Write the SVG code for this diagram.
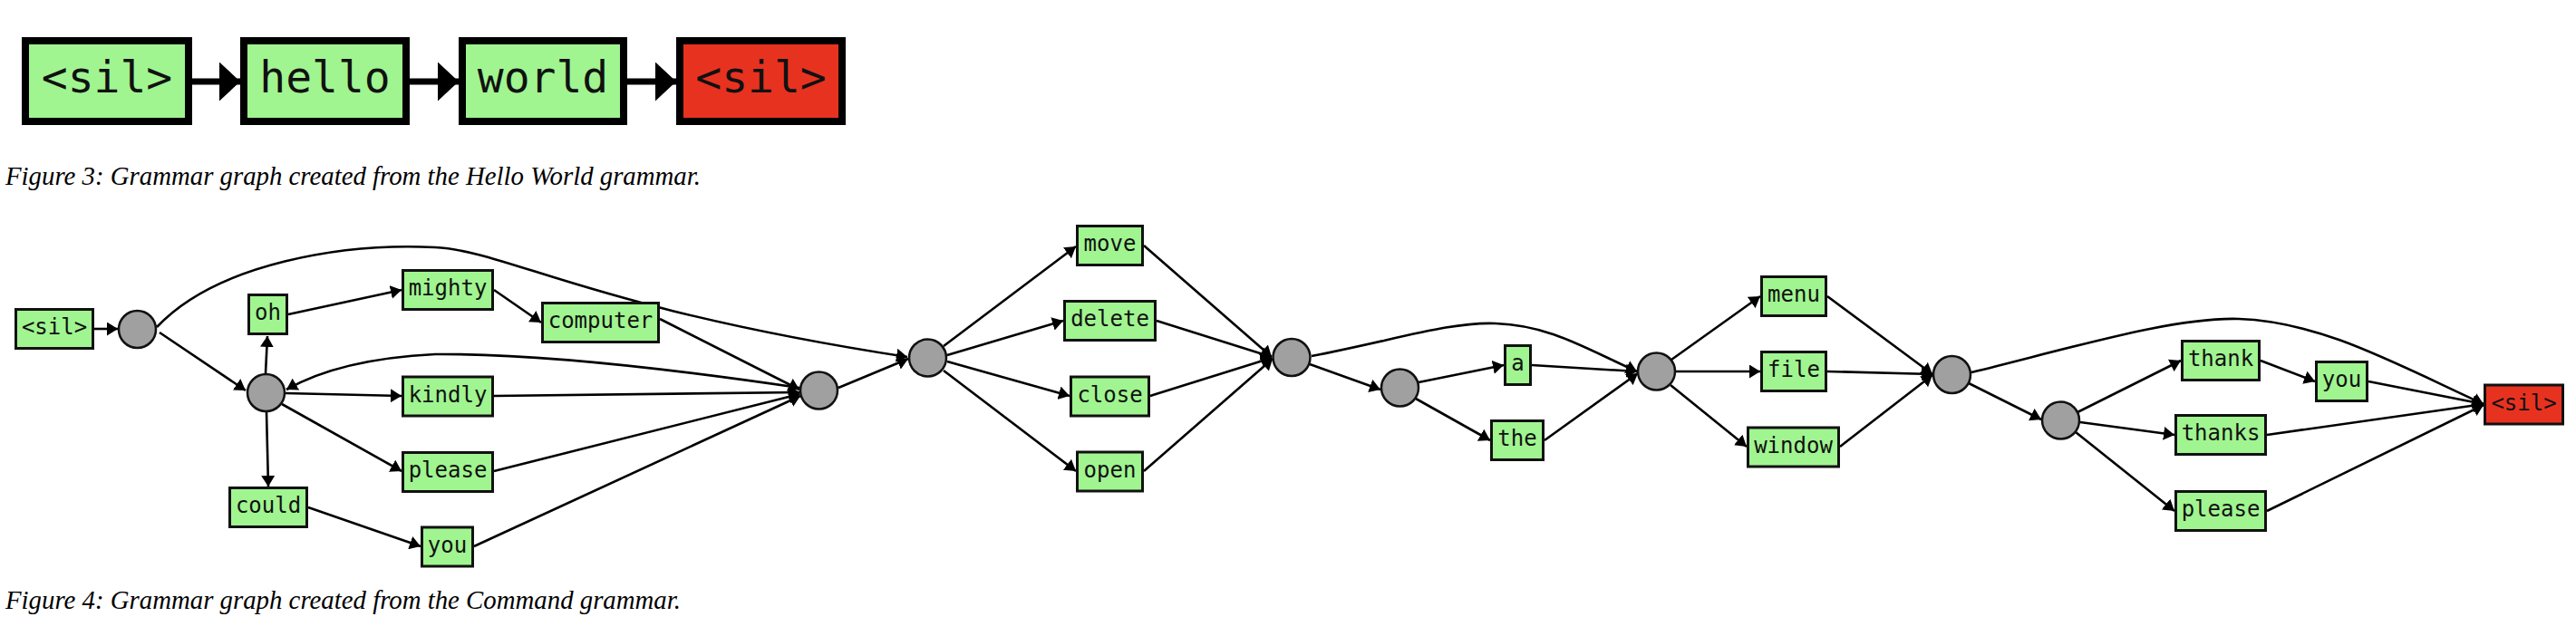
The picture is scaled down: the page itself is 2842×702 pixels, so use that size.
<svg xmlns="http://www.w3.org/2000/svg" width="2842" height="702" viewBox="0 0 2842 702">
<style>
.bg{fill:#ffffff}
.b3{fill:#a0f590;stroke:#000;stroke-width:8}
.r3{fill:#e83220;stroke:#000;stroke-width:8}
.t3{font-family:"DejaVu Sans Mono","Liberation Mono",monospace;font-size:48px;fill:#111;text-anchor:middle}
.e3{stroke:#000;stroke-width:7;fill:none;marker-end:url(#big)}
.b{fill:#a0f590;stroke:#111;stroke-width:3}
.r{fill:#e83220;stroke:#111;stroke-width:3}
.c{fill:#a0a0a0;stroke:#111;stroke-width:2.5}
.t{font-family:"DejaVu Sans Mono","Liberation Mono",monospace;font-size:24px;fill:#111;text-anchor:middle}
.e{stroke:#000;stroke-width:2.6;fill:none;marker-end:url(#arr)}
.cap{font-family:"Liberation Serif","Times New Roman",serif;font-style:italic;font-size:29px;fill:#000}
</style>
<defs>
<marker id="big" markerUnits="userSpaceOnUse" markerWidth="23" markerHeight="43" refX="23" refY="21.5" orient="auto" viewBox="0 0 23 43">
<path d="M0,0 L23,21.5 L0,43 z" fill="#000"/>
</marker>
<marker id="arr" markerUnits="userSpaceOnUse" markerWidth="12" markerHeight="15" refX="12" refY="7.5" orient="auto" viewBox="0 0 12 15">
<path d="M0,0 L12,7.5 L0,15 z" fill="#000"/>
</marker>
</defs>
<rect class="bg" x="0" y="0" width="2842" height="702"/>

<!-- Figure 3 -->
<g id="fig3-connectors">
<path class="e3" d="M212,90 L265,90"/>
<path class="e3" d="M452,90 L506,90"/>
<path class="e3" d="M692,90 L746,90"/>
</g>
<g id="f3-sil-start"><rect class="b3" x="28" y="45" width="180" height="89"/><text class="t3" x="118" y="102">&lt;sil&gt;</text></g>
<g id="f3-hello"><rect class="b3" x="269" y="45" width="179" height="89"/><text class="t3" x="358.5" y="102">hello</text></g>
<g id="f3-world"><rect class="b3" x="510" y="45" width="178" height="89"/><text class="t3" x="599" y="102">world</text></g>
<g id="f3-sil-end"><rect class="r3" x="750" y="45" width="179" height="89"/><text class="t3" x="839.5" y="102">&lt;sil&gt;</text></g>
<text class="cap" x="6" y="204" textLength="767" lengthAdjust="spacingAndGlyphs">Figure 3: Grammar graph created from the Hello World grammar.</text>

<!-- Figure 4 connectors -->
<g id="connectors">
<path class="e" d="M104,363 L130,363"/>
<path class="e" d="M176,367 L271,431"/>
<path class="e" d="M173,361 C240,290 380,268 480,273 C560,277 650,340 1001,394"/>
<path class="e" d="M293,412 L295,371"/>
<path class="e" d="M294,455 L296,537"/>
<path class="e" d="M315,434 L443,437"/>
<path class="e" d="M311,446 L443,520"/>
<path class="e" d="M318,347 L443,320"/>
<path class="e" d="M545,320 L597,356"/>
<path class="e" d="M340,560 L464,603"/>
<path class="e" d="M728,352 L882,430"/>
<path class="e" d="M545,437 L882,433"/>
<path class="e" d="M545,520 L882,435"/>
<path class="e" d="M523,603 L883,437"/>
<path class="e" d="M882,428 C760,410 600,390 480,391 C420,394 360,405 316,430"/>
<path class="e" d="M925,428 L1002,396"/>
<path class="e" d="M1041,382 L1187,272"/>
<path class="e" d="M1045,392 L1173,354"/>
<path class="e" d="M1045,399 L1180,437"/>
<path class="e" d="M1041,409 L1187,520"/>
<path class="e" d="M1262,271 L1403,394"/>
<path class="e" d="M1276,354 L1403,394"/>
<path class="e" d="M1269,437 L1403,395"/>
<path class="e" d="M1262,520 L1404,396"/>
<path class="e" d="M1445,402 L1523,430"/>
<path class="e" d="M1447,393 C1540,375 1600,355 1650,357 C1710,359 1750,385 1806,410"/>
<path class="e" d="M1565,422 L1659,403"/>
<path class="e" d="M1562,440 L1644,486"/>
<path class="e" d="M1690,403 L1806,410"/>
<path class="e" d="M1704,486 L1807,412"/>
<path class="e" d="M1844,397 L1942,327"/>
<path class="e" d="M1849,410 L1942,410"/>
<path class="e" d="M1843,425 L1927,493"/>
<path class="e" d="M2016,327 L2132,413"/>
<path class="e" d="M2016,410 L2132,413"/>
<path class="e" d="M2030,493 L2132,414"/>
<path class="e" d="M2172,423 L2252,463"/>
<path class="e" d="M2175,411 C2300,380 2400,350 2470,352 C2560,355 2640,400 2740,446"/>
<path class="e" d="M2292,455 L2406,398"/>
<path class="e" d="M2295,466 L2399,480"/>
<path class="e" d="M2290,477 L2399,564"/>
<path class="e" d="M2494,398 L2554,421"/>
<path class="e" d="M2613,421 L2740,446"/>
<path class="e" d="M2501,480 L2740,446"/>
<path class="e" d="M2501,564 L2740,447"/>
</g>

<!-- Figure 4 nodes -->
<g id="sil-start"><rect class="b" x="17.5" y="341.5" width="85" height="43"/><text class="t" x="60" y="369">&lt;sil&gt;</text></g>
<g id="n1"><circle class="c" cx="151.5" cy="363.5" r="20.5"/></g>
<g id="oh"><rect class="b" x="274.5" y="325.5" width="42" height="43"/><text class="t" x="295.5" y="353">oh</text></g>
<g id="mighty"><rect class="b" x="444.5" y="298.5" width="99" height="43"/><text class="t" x="494" y="326">mighty</text></g>
<g id="computer"><rect class="b" x="598.5" y="334.5" width="128" height="43"/><text class="t" x="662.5" y="362">computer</text></g>
<g id="n2"><circle class="c" cx="293.5" cy="433.5" r="20.5"/></g>
<g id="kindly"><rect class="b" x="444.5" y="416" width="99" height="43"/><text class="t" x="494" y="443.5">kindly</text></g>
<g id="please1"><rect class="b" x="444.5" y="499.5" width="99" height="43"/><text class="t" x="494" y="527">please</text></g>
<g id="could"><rect class="b" x="253.5" y="538.5" width="85" height="43"/><text class="t" x="296" y="566">could</text></g>
<g id="you1"><rect class="b" x="465.5" y="582" width="56" height="43"/><text class="t" x="493.5" y="609.5">you</text></g>
<g id="n3"><circle class="c" cx="903.5" cy="431" r="20.5"/></g>
<g id="n4"><circle class="c" cx="1023.5" cy="395" r="20.5"/></g>
<g id="move"><rect class="b" x="1188.5" y="249.5" width="72" height="43"/><text class="t" x="1224.5" y="277">move</text></g>
<g id="delete"><rect class="b" x="1174.5" y="332.5" width="100" height="43"/><text class="t" x="1224.5" y="360">delete</text></g>
<g id="close"><rect class="b" x="1181.5" y="416" width="86" height="43"/><text class="t" x="1224.5" y="443.5">close</text></g>
<g id="open"><rect class="b" x="1188.5" y="499" width="72" height="43"/><text class="t" x="1224.5" y="526.5">open</text></g>
<g id="n5"><circle class="c" cx="1425" cy="394.5" r="20.5"/></g>
<g id="n6"><circle class="c" cx="1544.5" cy="428" r="20.5"/></g>
<g id="a"><rect class="b" x="1660.5" y="381.5" width="28" height="43"/><text class="t" x="1674.5" y="409">a</text></g>
<g id="the"><rect class="b" x="1645.5" y="464.5" width="57" height="43"/><text class="t" x="1674" y="492">the</text></g>
<g id="n7"><circle class="c" cx="1827.5" cy="410" r="20.5"/></g>
<g id="menu"><rect class="b" x="1943.5" y="305.5" width="71" height="43"/><text class="t" x="1979" y="333">menu</text></g>
<g id="file"><rect class="b" x="1943.5" y="388.5" width="71" height="43"/><text class="t" x="1979" y="416">file</text></g>
<g id="window"><rect class="b" x="1928.5" y="472" width="100" height="43"/><text class="t" x="1978.5" y="499.5">window</text></g>
<g id="n8"><circle class="c" cx="2153.5" cy="413.5" r="20.5"/></g>
<g id="n9"><circle class="c" cx="2273.5" cy="464" r="20.5"/></g>
<g id="thank"><rect class="b" x="2407.5" y="376.5" width="85" height="43"/><text class="t" x="2450" y="404">thank</text></g>
<g id="you2"><rect class="b" x="2555.5" y="399.5" width="56" height="43"/><text class="t" x="2583.5" y="427">you</text></g>
<g id="thanks"><rect class="b" x="2400.5" y="458.5" width="99" height="43"/><text class="t" x="2450" y="486">thanks</text></g>
<g id="please2"><rect class="b" x="2400.5" y="542.5" width="99" height="43"/><text class="t" x="2450" y="570">please</text></g>
<g id="sil-end"><rect class="r" x="2741.5" y="425" width="86" height="43"/><text class="t" x="2784.5" y="452.5">&lt;sil&gt;</text></g>

<text class="cap" x="6" y="672" textLength="745" lengthAdjust="spacingAndGlyphs">Figure 4: Grammar graph created from the Command grammar.</text>
</svg>
